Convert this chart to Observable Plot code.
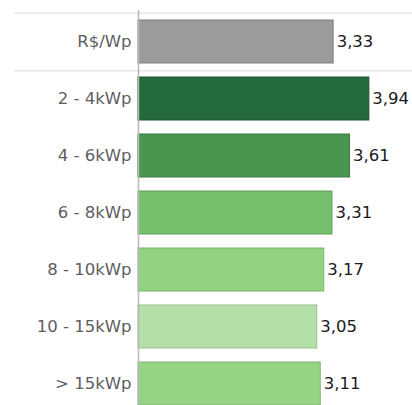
<!DOCTYPE html>
<html>
<head>
<meta charset="utf-8">
<script src="https://cdn.jsdelivr.net/npm/d3@7"></script>
<script src="https://cdn.jsdelivr.net/npm/@observablehq/plot@0.6"></script>
<style>
  html, body { margin: 0; padding: 0; background: #fff; overflow: hidden; }
  #chart svg { display: block; }
</style>
</head>
<body>
<div id="chart"></div>
<script>
const categories = ["R$/Wp", "2 - 4kWp", "4 - 6kWp", "6 - 8kWp", "8 - 10kWp", "10 - 15kWp", "> 15kWp"];
const values = [3.33, 3.94, 3.61, 3.31, 3.17, 3.05, 3.11];
const fills = ["#9b9b9b", "#256a3c", "#4b954f", "#76bf6c", "#92d281", "#b4dfa7", "#95d385"];
const strokes = ["#7d7d7d", "#1d5530", "#3d7c42", "#60a158", "#79b36b", "#95bf89", "#7cb56f"];

const data = categories.map((c, i) => ({ cat: c, value: values[i], fill: fills[i], stroke: strokes[i] }));
const fmt = v => v.toFixed(2).replace(".", ",");

const chart = Plot.plot({
  width: 412,
  height: 415,
  marginLeft: 138,
  marginRight: 0,
  marginTop: 10,
  marginBottom: 0,
  style: { fontFamily: "'DejaVu Sans', sans-serif", background: "#fff" },
  x: { domain: [0, 4.676], axis: null },
  y: { domain: categories, paddingInner: 0.25, paddingOuter: 0.14, label: null },
  color: { type: "identity" },
  marks: [
    Plot.ruleY([categories[0]], { dy: -28.75, stroke: "#e8e8e8", strokeWidth: 1.5, insetLeft: -124 }),
    Plot.ruleY([categories[0]], { dy: 28.75, stroke: "#e8e8e8", strokeWidth: 1.5, insetLeft: -124 }),
    Plot.barX(data, { x: "value", y: "cat", fill: "fill", stroke: "stroke", strokeWidth: 1 }),
    Plot.ruleX([0], { stroke: "#b8b8b8", strokeWidth: 1.5 }),
    Plot.text(data, { x: "value", y: "cat", text: d => fmt(d.value), textAnchor: "start", dx: 3, fill: "#1a1a1a", fontSize: 16.5 }),
    Plot.axisY({ tickSize: 0, tickPadding: 7, fontSize: 16.5, color: "#5e5e5e", label: null })
  ]
});
document.getElementById("chart").appendChild(chart);
</script>
</body>
</html>
